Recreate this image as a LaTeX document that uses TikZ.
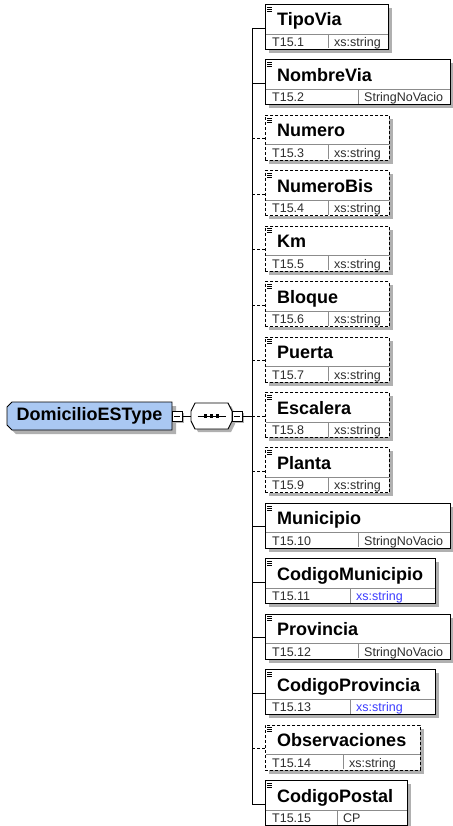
\documentclass[tikz,border=0pt]{standalone}
\usepackage{fontspec}
\setmainfont{Liberation Sans}
\usetikzlibrary{calc}
\definecolor{typeblue}{RGB}{170,200,242}
\definecolor{shadowc}{RGB}{176,176,176}
\definecolor{innerc}{RGB}{140,140,140}
\definecolor{idc}{RGB}{45,45,45}
\definecolor{linkblue}{RGB}{60,60,255}
\tikzset{
  elbox/.style={draw=black,line width=0.9pt,fill=white,inner sep=0pt,anchor=north west,minimum height=45pt},
  reqel/.style={},
  optel/.style={dash pattern=on 3pt off 2pt},
  innerl/.style={draw=innerc,line width=0.8pt},
  iconl/.style={draw=black,line width=0.6pt},
  namef/.style={inner sep=0pt,font=\bfseries\fontsize{18}{20}\selectfont},
  smallf/.style={inner sep=0pt,font=\fontsize{12.5}{14}\selectfont},
  conn/.style={draw=black,line width=0.9pt},
  shapeline/.style={draw=black,line width=0.9pt},
  minusbox/.style={draw=black,line width=0.9pt,fill=white,inner sep=0pt,minimum width=10pt,minimum height=10pt},
}
\newcommand\xelem[9]{%
  \pgfmathsetmacro\yt{4+55.43*#2}%
  \fill[shadowc] (269,\yt+4) rectangle (#6+4,\yt+49);
  \node[elbox,#8,minimum width={#6-265}] (#1) at (265,\yt) {};
  \draw[innerl] (265.5,\yt+30) -- (#6-0.5,\yt+30);
  \draw[innerl] (#7,\yt+30) -- (#7,\yt+44.5);
  \draw[iconl] (267,\yt+3) -- (272,\yt+3);
  \draw[iconl] (267,\yt+5) -- (272,\yt+5);
  \draw[iconl] (267,\yt+7) -- (272,\yt+7);
  \node[namef,anchor=base west] (#1-name) at (277,\yt+22) {#3};
  \node[smallf,anchor=base west,text=idc] (#1-id) at (272,\yt+42.5) {#4};
  \node[smallf,anchor=base west,text=#9] (#1-type) at (#7+6,\yt+42.5) {#5};
  \coordinate (sp#2) at (252,\yt+24);
  \draw[conn,#8] (sp#2) -- (sp#2 -| #1.west);
}
\begin{document}
\begin{tikzpicture}[x=1pt,y=-1pt]
\useasboundingbox (0,0) rectangle (452,826);
% children
\xelem{tipovia}{0}{TipoVia}{T15.1}{xs:string}{388}{328}{reqel}{idc}
\xelem{nombrevia}{1}{NombreVia}{T15.2}{StringNoVacio}{450}{358}{reqel}{idc}
\xelem{numero}{2}{Numero}{T15.3}{xs:string}{389}{328}{optel}{idc}
\xelem{numerobis}{3}{NumeroBis}{T15.4}{xs:string}{389}{328}{optel}{idc}
\xelem{km}{4}{Km}{T15.5}{xs:string}{389}{328}{optel}{idc}
\xelem{bloque}{5}{Bloque}{T15.6}{xs:string}{389}{328}{optel}{idc}
\xelem{puerta}{6}{Puerta}{T15.7}{xs:string}{389}{328}{optel}{idc}
\xelem{escalera}{7}{Escalera}{T15.8}{xs:string}{389}{328}{optel}{idc}
\xelem{planta}{8}{Planta}{T15.9}{xs:string}{389}{328}{optel}{idc}
\xelem{municipio}{9}{Municipio}{T15.10}{StringNoVacio}{450}{358}{reqel}{idc}
\xelem{codmun}{10}{CodigoMunicipio}{T15.11}{xs:string}{435}{350}{reqel}{linkblue}
\xelem{provincia}{11}{Provincia}{T15.12}{StringNoVacio}{450}{358}{reqel}{idc}
\xelem{codprov}{12}{CodigoProvincia}{T15.13}{xs:string}{435}{350}{reqel}{linkblue}
\xelem{observ}{13}{Observaciones}{T15.14}{xs:string}{420}{343}{optel}{idc}
\xelem{codpostal}{14}{CodigoPostal}{T15.15}{CP}{407}{337}{reqel}{idc}
% spine
\draw[conn] (sp0) -- (sp14);
% complex type box
\fill[shadowc] (11,406) -- (176,406) -- (176,434) -- (16,434) -- (11,429) -- cycle;
\draw[shapeline,fill=typeblue] (12,402) -- (172,402) -- (172,430) -- (12,430) -- (7,425) -- (7,407) -- cycle;
\node[inner sep=0pt,minimum width=165pt,minimum height=28pt,
      font=\bfseries\fontsize{18}{20}\selectfont] (dt) at (89.5,416) {DomicilioESType};
% sequence compositor
\fill[shadowc] (198,406) -- (231,406) -- (235,414) -- (235,424) -- (231,432) -- (198,432) -- (194,424) -- (194,414) -- cycle;
\draw[shapeline,fill=white] (195,403) -- (228,403) -- (232,411) -- (232,421) -- (228,429) -- (195,429) -- (191,421) -- (191,411) -- cycle;
\node[inner sep=0pt,minimum width=41pt,minimum height=26pt] (seq) at (211.5,416) {};
\draw[conn] ($(seq.center)+(-14,0)$) -- ($(seq.center)+(14,0)$);
\foreach \dx in {-6,0,6} \fill[black] ($(seq.center)+(\dx-1.6,-1.6)$) rectangle ($(seq.center)+(\dx+1.6,1.6)$);
% minus boxes
\fill[shadowc] (174,413) rectangle (184,423);
\node[minusbox] (m1) at (177,416) {};
\draw[line width=0.9pt] ($(m1.center)+(-3,0)$) -- ($(m1.center)+(3,0)$);
\fill[shadowc] (234,413) rectangle (244,423);
\node[minusbox] (m2) at (237,416) {};
\draw[line width=0.9pt] ($(m2.center)+(-3,0)$) -- ($(m2.center)+(3,0)$);
\draw[conn] (m1.east) -- (seq.west);
\draw[conn] (m2.east) -- (m2.east -| sp7);
\end{tikzpicture}
\end{document}
